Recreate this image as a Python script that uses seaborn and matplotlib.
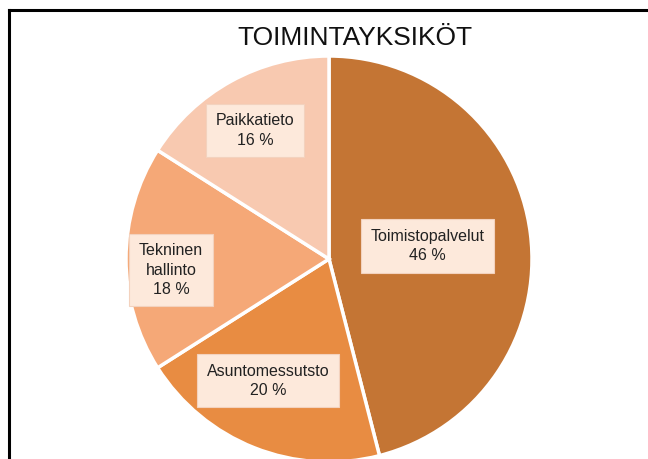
import matplotlib
matplotlib.use("Agg")
import matplotlib.pyplot as plt
import seaborn as sns
import numpy as np
from matplotlib.lines import Line2D

sns.set_theme(style="white")
plt.rcParams['font.family'] = ['Liberation Sans', 'DejaVu Sans']

# Data
title = "TOIMINTAYKSIKÖT"
categories = ["Toimistopalvelut", "Asuntomessutsto", "Tekninen\nhallinto", "Paikkatieto"]
shares = [46, 20, 18, 16]
colors = ["#C47534", "#E88C42", "#F5A877", "#F8C9B0"]

# label layout (radius fraction and angular nudge in degrees)
label_r = [0.49, 0.67, 0.78, 0.73]
label_dtheta = [0.3, -5.0, 4.0, 1.0]

W, H = 648, 459
fig = plt.figure(figsize=(W / 100, H / 100), dpi=100)
fig.patch.set_facecolor("white")

cx, cy, r = 329, 259, 203
ax = fig.add_axes([(cx - r) / W, (H - cy - r) / H, 2 * r / W, 2 * r / H])

wedges, _ = ax.pie(shares, colors=colors, startangle=90, counterclock=False,
                   radius=1.0, wedgeprops=dict(edgecolor="white", linewidth=2.5))
ax.set_xlim(-1, 1)
ax.set_ylim(-1, 1)
ax.set_aspect("equal")
ax.axis("off")
for w in wedges:
    w.set_clip_on(False)

for w, cat, val, lr, dt in zip(wedges, categories, shares, label_r, label_dtheta):
    mid = np.deg2rad((w.theta1 + w.theta2) / 2 + dt)
    x, y = lr * np.cos(mid), lr * np.sin(mid)
    ax.text(x, y, f"{cat}\n{val} %", ha="center", va="center", fontsize=11.5,
            color="#222222", linespacing=1.35,
            bbox=dict(boxstyle="square,pad=0.6", facecolor="#FDE9DB",
                      edgecolor="#F3D2BE", linewidth=0.8))

fig.text(355 / W, 1 - 38 / H, title, ha="center", va="center", fontsize=19,
         color="#111111")

# chart border (left and top visible)
fig.add_artist(Line2D([9 / W, 9 / W], [-0.1, 1 - 10 / H], transform=fig.transFigure,
                      color="black", linewidth=2.2, solid_capstyle="projecting"))
fig.add_artist(Line2D([9 / W, 1.1], [1 - 10 / H, 1 - 10 / H], transform=fig.transFigure,
                      color="black", linewidth=2.2, solid_capstyle="projecting"))

fig.savefig("out.png", dpi=100)
